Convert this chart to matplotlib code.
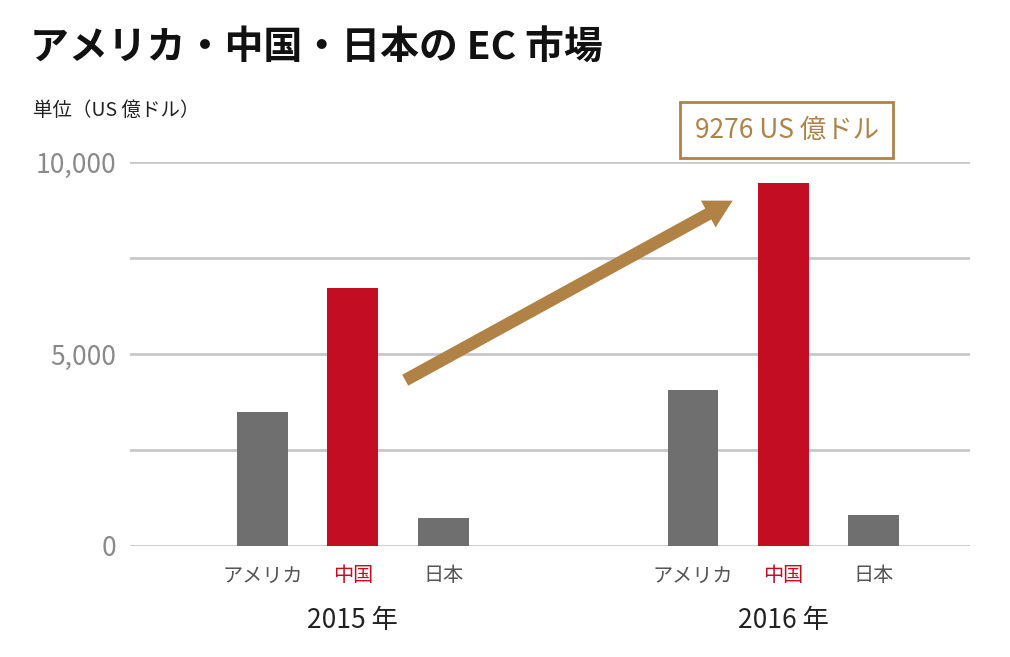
import matplotlib.pyplot as plt
from matplotlib.ticker import FuncFormatter

plt.rcParams["font.family"] = "Noto Sans CJK JP"

countries = ["アメリカ", "中国", "日本"]
years = ["2015 年", "2016 年"]
values_2015 = [3490, 6720, 730]
values_2016 = [4060, 9450, 810]
callout = "9276 US 億ドル"

gray = "#6f6f6f"
red = "#c30d23"
gold = "#b08246"

fig = plt.figure(figsize=(10.1, 6.57), dpi=100)
ax = fig.add_axes([0.129, 0.169, 0.831, 0.584])

pos_2015 = [0, 1, 2]
pos_2016 = [4.76, 5.76, 6.76]
for pos, vals in [(pos_2015, values_2015), (pos_2016, values_2016)]:
    colors = [gray, red, gray]
    ax.bar(pos, vals, width=0.56, color=colors, zorder=3)

ax.set_xlim(-1.46, 7.82)
ax.set_ylim(0, 10000)
for y in [0, 2500, 5000, 7500, 10000]:
    ax.axhline(y, color="#c8c8c8", lw=2, zorder=1)
ax.set_yticks([0, 5000, 10000])
ax.yaxis.set_major_formatter(FuncFormatter(lambda v, p: f"{int(v):,}"))
ax.tick_params(axis="y", length=0, labelsize=19, labelcolor="#8a8a8a", pad=10)
ax.set_xticks(pos_2015 + pos_2016)
ax.set_xticklabels(countries * 2, fontsize=14.5)
ax.tick_params(axis="x", length=0, pad=14)
for lbl in ax.get_xticklabels():
    lbl.set_color(red if lbl.get_text() == "中国" else "#555555")
for s in ax.spines.values():
    s.set_visible(False)

for x, yr in [(1, years[0]), (5.76, years[1])]:
    ax.text(x, -1950, yr, ha="center", va="center", fontsize=19, color="#222222")

ax.annotate("", xy=(5.2, 9000), xytext=(1.58, 4320),
            arrowprops=dict(arrowstyle="simple,head_width=2.2,head_length=2.0,tail_width=0.9",
                            color=gold, lw=0, mutation_scale=10, shrinkA=0, shrinkB=0),
            zorder=4)

fig.text(0.779, 0.802, callout, ha="center", va="center", fontsize=19, color=gold,
         bbox=dict(boxstyle="square,pad=0.55", fc="white", ec=gold, lw=2))

fig.text(0.03, 0.927, "アメリカ・中国・日本の EC 市場", fontsize=28, fontweight="bold",
         va="center", color="#111111")
fig.text(0.033, 0.832, "単位（US 億ドル）", fontsize=14, va="center", color="#222222")

fig.savefig("out.png")
